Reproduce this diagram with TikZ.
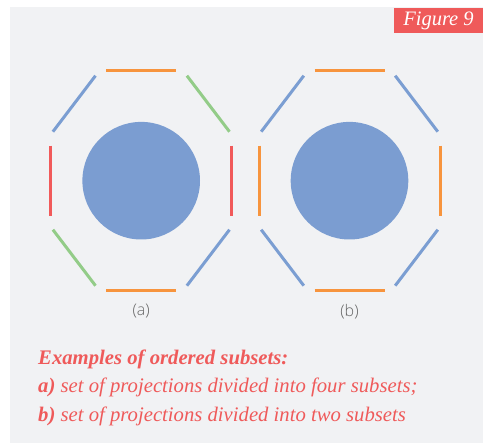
\documentclass[tikz,border=0pt]{standalone}
\usepackage{fontspec}
\setmainfont{Liberation Serif}
\newfontfamily\labelfont{Open Sans Light}
\usepackage{xcolor}
\usetikzlibrary{positioning}

\definecolor{paper}{HTML}{F1F2F4}
\definecolor{capred}{HTML}{EF5A5A}
\definecolor{segorange}{HTML}{F7943D}
\definecolor{segblue}{HTML}{7B9ED2}
\definecolor{seggreen}{HTML}{93CC88}
\definecolor{segred}{HTML}{F15A5A}
\definecolor{discblue}{HTML}{7B9DD1}

\begin{document}
\begin{tikzpicture}[x=1pt, y=-1pt,
      side/.style={line width=3pt},
      disc/.style={circle, fill=discblue, minimum size=117.6pt, inner sep=0pt},
      sublbl/.style={font=\labelfont\fontsize{16}{18}\selectfont, text=black!60},
      capline/.style={anchor=base west, inner sep=0pt, text=capred,
                      font=\fontsize{20.7}{24}\selectfont\itshape}]

    \useasboundingbox (0,0) rectangle (483,443);
    \fill[paper] (10,7) rectangle (483,443);

    % figure tag, top right
    \node[fill=capred, text=white, minimum width=89pt, minimum height=25pt,
          inner sep=0pt, font=\fontsize{20.5}{22}\selectfont\itshape]
      (tag) at (438.5,20.5) {Figure 9};

    % (a): projections in four subsets
    \begin{scope}[shift={(141.2,180.7)}]
      \node[disc] (da) at (0,0) {};
      \draw[side, segorange] (-35,-110) -- (35,-110);
      \draw[side, segorange] (-35,110) -- (35,110);
      \draw[side, segred] (-90.5,-35) -- (-90.5,35);
      \draw[side, segred] (90.5,-35) -- (90.5,35);
      \draw[side, segblue] (-88.3,-49) -- (-45.7,-105);
      \draw[side, seggreen] (45.7,-105) -- (88.3,-49);
      \draw[side, seggreen] (-88.3,49) -- (-45.7,105);
      \draw[side, segblue] (45.7,105) -- (88.3,49);
      \node[sublbl] (la) at (0,130.5) {(a)};
    \end{scope}

    % (b): projections in two subsets
    \begin{scope}[shift={(349.5,180.7)}]
      \node[disc] (db) at (0,0) {};
      \draw[side, segorange] (-35,-110) -- (35,-110);
      \draw[side, segorange] (-35,110) -- (35,110);
      \draw[side, segorange] (-90.5,-35) -- (-90.5,35);
      \draw[side, segorange] (90.5,-35) -- (90.5,35);
      \draw[side, segblue] (-88.3,-49) -- (-45.7,-105);
      \draw[side, segblue] (45.7,-105) -- (88.3,-49);
      \draw[side, segblue] (-88.3,49) -- (-45.7,105);
      \draw[side, segblue] (45.7,105) -- (88.3,49);
      \node[sublbl] (lb) at (0,130.5) {(b)};
    \end{scope}

    % caption
    \node[capline] (c1) at (38,365) {\textbf{Examples of ordered subsets:}};
    \node[capline] (c2) at (38,393) {\textbf{a)} set of projections divided into four subsets;};
    \node[capline] (c3) at (38,422) {\textbf{b)} set of projections divided into two subsets};
\end{tikzpicture}
\end{document}
